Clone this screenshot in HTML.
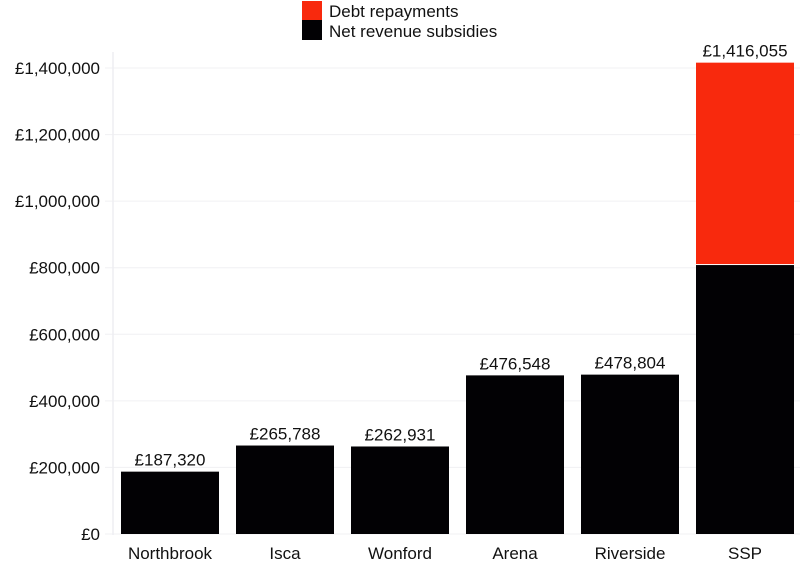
<!DOCTYPE html>
<html><head><meta charset="utf-8"><style>
body{margin:0;background:#fff;font-family:"Liberation Sans",sans-serif;}
svg text{font-family:"Liberation Sans",sans-serif;fill:#111;}
</style></head><body>
<svg width="800" height="565" id="c">
<g>
<rect x="302" y="1" width="20" height="19" fill="#f8290d"/>
<text x="329" y="17" font-size="17">Debt repayments</text>
<rect x="302" y="20" width="20" height="20" fill="#020104"/>
<text x="329" y="37" font-size="17">Net revenue subsidies</text>
</g>
<g id="grid"></g><g id="bars"></g><g id="labels"></g>
<line x1="113" y1="52" x2="113" y2="535" stroke="#eeeef2" stroke-width="1.5"/>
</svg>
<script>
const categories=["Northbrook","Isca","Wonford","Arena","Riverside","SSP"];
const netSubsidies=[187320,265788,262931,476548,478804,808000];
const debtRepayments=[0,0,0,0,0,608055];
const totalLabels=["£187,320","£265,788","£262,931","£476,548","£478,804","£1,416,055"];
const yTicks=[0,200000,400000,600000,800000,1000000,1200000,1400000];
const NS="http://www.w3.org/2000/svg";
const y0=534,yMax=1400000,yTopPx=68,x0=113,band=115,barW=98;
function y(v){return y0-(v/yMax)*(y0-yTopPx);}
function x(i){return x0+8+i*band;}
function mk(t,a,p){const e=document.createElementNS(NS,t);for(const k in a)e.setAttribute(k,a[k]);p.appendChild(e);return e;}
const g=document.getElementById('grid'),b=document.getElementById('bars'),l=document.getElementById('labels');
yTicks.forEach(v=>{
 const ln=mk('line',{x1:105,x2:800,y1:y(v),y2:y(v),stroke:'#f0f0f3','stroke-width':1},g);
 
 
 const t=mk('text',{x:100,y:y(v)+6,'text-anchor':'end','font-size':17},l);
 t.textContent='£'+v.toLocaleString('en-GB');
 
 
});
categories.forEach((c,i)=>{
 const n=netSubsidies[i],d=debtRepayments[i];
 const r1=mk('rect',{x:x(i),y:y(n),width:barW,height:y0-y(n),fill:'#020104'},b);
 
 
 if(d>0){
  const r2=mk('rect',{x:x(i),y:y(n+d),width:barW,height:y(n)-y(n+d)-1,fill:'#f8290d'},b);
  
  
 }
 const t=mk('text',{x:x(i)+barW/2,y:y(n+d)-6,'text-anchor':'middle','font-size':17},l);
 t.textContent=totalLabels[i];
 
 
 const ct=mk('text',{x:x(i)+barW/2,y:559,'text-anchor':'middle','font-size':17},l);
 ct.textContent=c;
 
 
});
</script>
</body></html>
